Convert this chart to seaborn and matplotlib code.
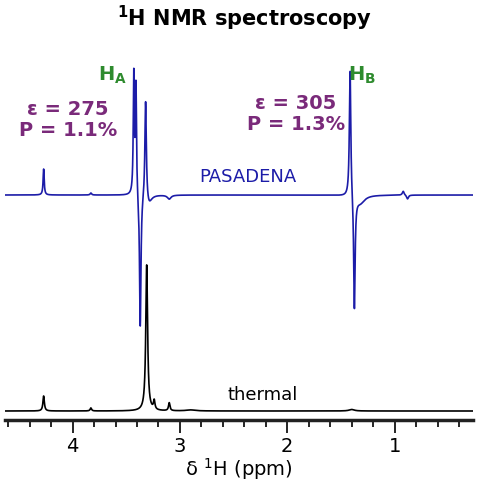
import numpy as np
import pandas as pd
import seaborn as sns
import matplotlib
matplotlib.use('Agg')
import matplotlib.pyplot as plt
from matplotlib.ticker import MultipleLocator

# peak tables: position (ppm), amplitude, half width (ppm)
thermal_pos = [4.27, 3.83, 3.31, 3.24, 3.10, 2.90, 1.40]
thermal_amp = [15, 3, 146, 9, 8, 1, 1.5]
thermal_wid = [0.008, 0.008, 0.010, 0.008, 0.008, 0.05, 0.03]

pasadena_pos = [4.27, 3.83, 3.43, 3.41, 3.37, 3.32, 3.29, 3.10, 1.415, 1.375, 1.32, 0.92, 0.88]
pasadena_amp = [26, 2, 120, 110, -136, 101, -10, -4, 130, -115, -8, 4, -4]
pasadena_wid = [0.006, 0.008, 0.006, 0.006, 0.008, 0.008, 0.03, 0.02, 0.008, 0.008, 0.05, 0.01, 0.01]

thermal_offset = 9
pasadena_offset = 225

ppm = np.linspace(4.63, 0.27, 6000)


def spectrum(pos, amp, wid, offset):
    y = np.full_like(ppm, float(offset))
    for p, a, w in zip(pos, amp, wid):
        y += a * w**2 / ((ppm - p)**2 + w**2)
    return y


df = pd.concat([
    pd.DataFrame({'ppm': ppm, 'I': spectrum(thermal_pos, thermal_amp, thermal_wid, thermal_offset), 's': 'thermal'}),
    pd.DataFrame({'ppm': ppm, 'I': spectrum(pasadena_pos, pasadena_amp, pasadena_wid, pasadena_offset), 's': 'PASADENA'}),
])

sns.set_style('white')
plt.rcParams['text.color'] = 'black'
plt.rcParams['xtick.color'] = 'black'
fig = plt.figure(figsize=(4.92, 4.98), dpi=100)
ax = fig.add_axes([5/492, 78/498, 468/492, 420/498])
sns.lineplot(data=df, x='ppm', y='I', hue='s', palette={'thermal': 'black', 'PASADENA': '#1c1ca8'},
             sort=False, estimator=None, lw=1.2, legend=False, ax=ax)
ax.set_xlim(4.63, 0.27)
ax.set_ylim(0, 420)
for s in ['left', 'right', 'top']:
    ax.spines[s].set_visible(False)
ax.spines['bottom'].set_linewidth(2.5)
ax.spines['bottom'].set_color('#222222')
ax.set_yticks([])
ax.set_ylabel('')
ax.xaxis.set_major_locator(MultipleLocator(1))
ax.xaxis.set_minor_locator(MultipleLocator(0.2))
ax.tick_params(axis='x', which='major', direction='out', length=9, width=1.2, labelsize=14, pad=3, bottom=True)
ax.tick_params(axis='x', which='minor', direction='out', length=5, width=1.2, bottom=True)
ax.set_xlabel('δ $^1$H (ppm)', fontsize=14, labelpad=0, color='black')

fig.text(245/492, 1 - 18/498, '$^\\mathbf{1}$H NMR spectroscopy', ha='center', va='center', fontsize=15, fontweight='bold')
green = '#2e8b2e'
purple = '#7a2a7a'
fig.text(112/492, 1 - 75/498, 'H$_\\mathbf{A}$', ha='center', va='center', fontsize=14, fontweight='bold', color=green)
fig.text(362/492, 1 - 75/498, 'H$_\\mathbf{B}$', ha='center', va='center', fontsize=14, fontweight='bold', color=green)
fig.text(68/492, 1 - 120/498, 'ε = 275\nP = 1.1%', ha='center', va='center', fontsize=14, fontweight='bold',
         color=purple, linespacing=1.1)
fig.text(296/492, 1 - 114/498, 'ε = 305\nP = 1.3%', ha='center', va='center', fontsize=14, fontweight='bold',
         color=purple, linespacing=1.1)
fig.text(248/492, 1 - 177/498, 'PASADENA', ha='center', va='center', fontsize=13, color='#1c1ca8')
fig.text(263/492, 1 - 395/498, 'thermal', ha='center', va='center', fontsize=13, color='black')

fig.savefig('out.png', dpi=100)
